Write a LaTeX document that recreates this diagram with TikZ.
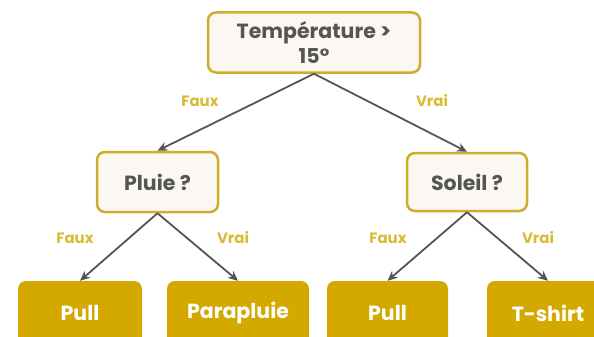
\documentclass[tikz,border=0pt]{standalone}
\usepackage{fontspec}
\setmainfont{Poppins}
\usetikzlibrary{arrows.meta}
\definecolor{gold}{HTML}{CDAE2C}
\definecolor{leafc}{HTML}{D3A900}
\definecolor{paper}{HTML}{FBF7F2}
\definecolor{ink}{HTML}{555555}
\definecolor{labc}{HTML}{D8BB35}
\begin{document}
\begin{tikzpicture}[x=1pt,y=-1pt,
  decision/.style={draw=gold, line width=2.5pt, fill=paper, rounded corners=8pt, text=ink,
    font=\bfseries\fontsize{20.5}{25}\selectfont, align=center, inner sep=0pt},
  leafbox/.style={fill=leafc, rounded corners=8pt, text=white,
    font=\bfseries\fontsize{20.5}{25}\selectfont, inner sep=0pt, minimum height=64pt},
  edge/.style={draw=ink, line width=1.8pt, -{Stealth[length=10pt,width=9pt]}},
  lab/.style={text=labc, font=\bfseries\fontsize{15}{18}\selectfont}]
\useasboundingbox (0,0) rectangle (594,337);
\clip (0,0) rectangle (594,337);
\node[decision, minimum width=212pt, minimum height=60pt] (root) at (314,42.5) {Température >\\15°};
\node[decision, minimum width=121pt, minimum height=60pt] (pluie) at (157.5,182) {Pluie ?};
\node[decision, minimum width=120pt, minimum height=58pt] (soleil) at (467,182) {Soleil ?};
\node[leafbox, minimum width=124pt] (pull1) at (80,313) {Pull};
\node[leafbox, minimum width=142pt] (parapluie) at (238,313) {Parapluie};
\node[leafbox, minimum width=121pt] (pull2) at (387.5,313) {Pull};
\node[leafbox, minimum width=122pt] (tshirt) at (548,313) {T-shirt};
\draw[edge] (root.south) -- (pluie.north);
\draw[edge] (root.south) -- (soleil.north);
\draw[edge] (pluie.south) -- (pull1.north);
\draw[edge] (pluie.south) -- (parapluie.north);
\draw[edge] (soleil.south) -- (pull2.north);
\draw[edge] (soleil.south) -- (tshirt.north);
\node[lab] (l1) at (200,101) {Faux};
\node[lab] (l2) at (432,101) {Vrai};
\node[lab] (l3) at (75,238) {Faux};
\node[lab] (l4) at (233,238) {Vrai};
\node[lab] (l5) at (388,238) {Faux};
\node[lab] (l6) at (538,238) {Vrai};
\end{tikzpicture}
\end{document}
